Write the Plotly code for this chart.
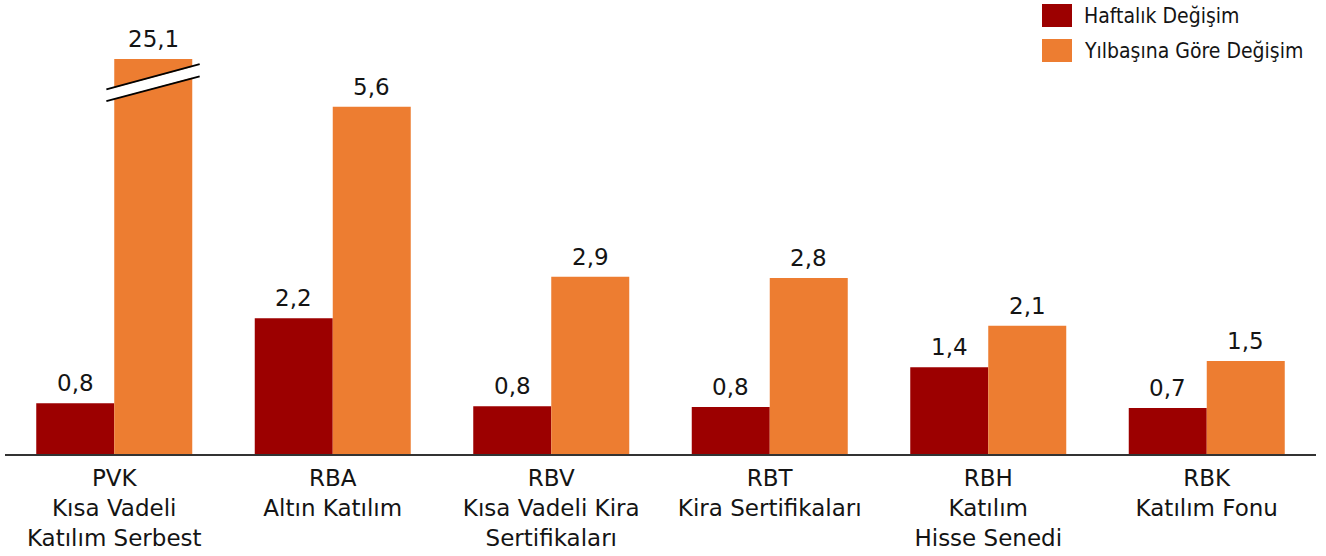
import plotly.graph_objects as go

# ---- data ----
categories = [
    "PVK<br>Kısa Vadeli<br>Katılım Serbest",
    "RBA<br>Altın Katılım",
    "RBV<br>Kısa Vadeli Kira<br>Sertifikaları",
    "RBT<br>Kira Sertifikaları",
    "RBH<br>Katılım<br>Hisse Senedi",
    "RBK<br>Katılım Fonu",
]
series_names = ["Haftalık Değişim", "Yılbaşına Göre Değişim"]
weekly = [0.82, 2.19, 0.77, 0.76, 1.40, 0.74]
ytd = [25.1, 5.6, 2.86, 2.84, 2.07, 1.50]

# ---- style ----
RED = "#9C0000"
ORANGE = "#ED7D31"
TXT = "#141414"
FONT = "DejaVu Sans"
BREAK_CAP = 6.37          # axis break: bars above this are drawn cut
Y_MAX = 7.0
BARGAP = 0.286

def fmt(v):
    return f"{v:.1f}".replace(".", ",")

ytd_shown = [min(v, BREAK_CAP) for v in ytd]

fig = go.Figure()
fig.add_trace(go.Bar(x=categories, y=weekly, name=series_names[0],
                     marker=dict(color=RED, line=dict(width=0)),
                     showlegend=False, hoverinfo="skip"))
fig.add_trace(go.Bar(x=categories, y=ytd_shown, name=series_names[1],
                     marker=dict(color=ORANGE, line=dict(width=0)),
                     showlegend=False, hoverinfo="skip"))

# value labels
half = (1 - BARGAP) / 2
for i, (w, a, a_s) in enumerate(zip(weekly, ytd, ytd_shown)):
    for xoff, yv, val in ((-half / 2, w, w), (half / 2, a_s, a)):
        fig.add_annotation(x=i + xoff, y=yv, xref="x", yref="y",
                           text=fmt(val), showarrow=False,
                           yanchor="bottom", yshift=5,
                           font=dict(family=FONT, size=23, color=TXT))

# axis-break marker on the capped bar(s)
shapes = []
for i, a in enumerate(ytd):
    if a > BREAK_CAP:
        x0 = i - 0.036
        x1 = i + 0.391
        shapes.append(dict(type="line", xref="x", yref="y",
                           x0=x0, y0=BREAK_CAP - 0.585, x1=x1, y1=BREAK_CAP - 0.18,
                           line=dict(color="white", width=10.5), layer="above"))
        shapes.append(dict(type="line", xref="x", yref="y",
                           x0=x0, y0=BREAK_CAP - 0.49, x1=x1, y1=BREAK_CAP - 0.08,
                           line=dict(color="black", width=1.8), layer="above"))
        shapes.append(dict(type="line", xref="x", yref="y",
                           x0=x0, y0=BREAK_CAP - 0.68, x1=x1, y1=BREAK_CAP - 0.28,
                           line=dict(color="black", width=1.8), layer="above"))

# manual legend (top right)
W, H = 1326, 556
ML, MR, MT, MB = 5, 10, 20, 102
pw, ph = W - ML - MR, H - MT - MB
def px(x):
    return (x - ML) / pw
def py(y):
    return (H - MB - y) / ph
for k, (name, col) in enumerate(zip(series_names, [RED, ORANGE])):
    top = 4 + k * 35
    shapes.append(dict(type="rect", xref="paper", yref="paper",
                       x0=px(1042), x1=px(1072), y0=py(top + 23), y1=py(top),
                       fillcolor=col, line=dict(width=0)))
    fig.add_annotation(x=px(1082), y=py(top + 12), xref="paper", yref="paper",
                       text=name, showarrow=False, xanchor="left", yanchor="middle",
                       font=dict(family="DejaVu Sans Condensed, DejaVu Sans", size=21, color=TXT))

fig.update_layout(
    width=W, height=H,
    margin=dict(l=ML, r=MR, t=MT, b=MB, autoexpand=False),
    paper_bgcolor="white", plot_bgcolor="white",
    barmode="group", bargap=BARGAP, bargroupgap=0,
    shapes=shapes,
    font=dict(family=FONT, color=TXT),
    xaxis=dict(type="category", showline=True, linecolor="#333333", linewidth=1.6,
               ticks="", showgrid=False, zeroline=False, automargin=False,
               ticklabelstandoff=3,
               tickfont=dict(family=FONT, size=23, color=TXT)),
    yaxis=dict(range=[0, Y_MAX], visible=False, showgrid=False, zeroline=False,
               automargin=False),
)

fig.write_html("out.html",
               config={"displayModeBar": False, "staticPlot": True},
               post_script="document.body.style.margin='0';document.body.style.overflow='hidden';")
